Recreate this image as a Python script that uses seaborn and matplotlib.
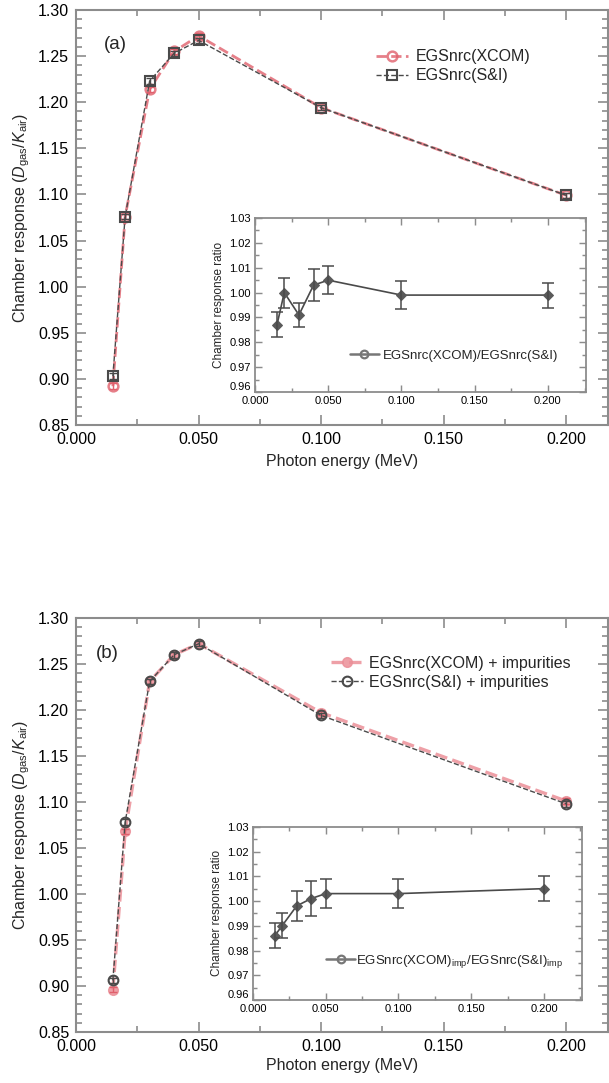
import matplotlib
matplotlib.use("Agg")
import matplotlib.pyplot as plt
from matplotlib.ticker import MultipleLocator, FormatStrFormatter
import seaborn as sns
import pandas as pd

# ---------------- data ----------------
energy = [0.015, 0.020, 0.030, 0.040, 0.050, 0.100, 0.200]

a_xcom = [0.892, 1.076, 1.214, 1.255, 1.272, 1.194, 1.099]
a_si = [0.903, 1.076, 1.223, 1.253, 1.267, 1.194, 1.099]
a_err = [0.003, 0.003, 0.003, 0.003, 0.003, 0.003, 0.003]
a_ratio = [0.987, 1.000, 0.991, 1.003, 1.005, 0.999, 0.999]
a_ratio_err = [0.005, 0.006, 0.005, 0.0065, 0.0055, 0.0055, 0.005]

b_xcom = [0.896, 1.068, 1.231, 1.260, 1.272, 1.197, 1.101]
b_si = [0.906, 1.078, 1.231, 1.260, 1.272, 1.194, 1.098]
b_err = [0.003, 0.003, 0.003, 0.003, 0.003, 0.003, 0.003]
b_ratio = [0.986, 0.990, 0.998, 1.001, 1.003, 1.003, 1.005]
b_ratio_err = [0.005, 0.005, 0.006, 0.007, 0.0058, 0.0058, 0.005]

main_xticks = [0.000, 0.050, 0.100, 0.150, 0.200]
main_yticks = [0.85, 0.90, 0.95, 1.00, 1.05, 1.10, 1.15, 1.20, 1.25, 1.30]
inset_xticks = [0.000, 0.050, 0.100, 0.150, 0.200]
inset_yticks = [0.96, 0.97, 0.98, 0.99, 1.00, 1.01, 1.02, 1.03]

# ---------------- style ----------------
sns.set_theme(style="ticks")
plt.rcParams["font.family"] = ["Liberation Sans", "DejaVu Sans"]
plt.rcParams["mathtext.fontset"] = "custom"
plt.rcParams["mathtext.rm"] = "Liberation Sans"
plt.rcParams["mathtext.it"] = "Liberation Sans:italic"
plt.rcParams["mathtext.bf"] = "Liberation Sans:bold"

SPINE = "#8c8c8c"
RED = "#e0606c"
PINK = "#eb8f98"
GREY = "#4a4a4a"

fig = plt.figure(figsize=(6.09, 10.83), dpi=100)
ax_a = fig.add_axes([0.125, 0.6076, 0.8736, 0.3832])
ax_b = fig.add_axes([0.125, 0.0471, 0.8736, 0.3823])
ins_a = fig.add_axes([0.4187, 0.638, 0.5435, 0.1607])
ins_b = fig.add_axes([0.4154, 0.0766, 0.540, 0.160])


def style_axes(ax, xlim, ylim, xticks, yticks, xminor, yminor, fs, xfmt, yfmt,
               maj_len, min_len, lw, xpad, ypad):
    ax.set_xlim(*xlim)
    ax.set_ylim(*ylim)
    ax.set_xticks(xticks)
    ax.set_yticks(yticks)
    ax.xaxis.set_minor_locator(MultipleLocator(xminor))
    ax.yaxis.set_minor_locator(MultipleLocator(yminor))
    ax.xaxis.set_major_formatter(FormatStrFormatter(xfmt))
    ax.yaxis.set_major_formatter(FormatStrFormatter(yfmt))
    for s in ax.spines.values():
        s.set_visible(True)
        s.set_color(SPINE)
        s.set_linewidth(lw)
    ax.tick_params(which="both", direction="in", top=True, right=True,
                   color=SPINE, width=lw * 0.8, labelsize=fs, labelcolor="black")
    ax.tick_params(which="major", length=maj_len)
    ax.tick_params(which="minor", length=min_len)
    ax.tick_params(axis="x", pad=xpad)
    ax.tick_params(axis="y", pad=ypad)
    ax.set_facecolor("white")
    ax.grid(False)


def raise_bottom_ylabel(ax):
    # lowest y tick label sits just above the x tick labels, as in the original
    labels = ax.get_yticklabels()
    labels[0].set_verticalalignment("bottom")


ylab = r"Chamber response ($\mathit{D}_{\mathrm{gas}}/\mathit{K}_{\mathrm{air}}$)"

# ---------------- panel (a) ----------------
df_a = pd.DataFrame({"energy": energy, "xcom": a_xcom, "si": a_si})
sns.lineplot(data=df_a, x="energy", y="xcom", ax=ax_a, color=RED, linestyle="--",
             linewidth=2.0, alpha=0.8, marker="o", markersize=7, markerfacecolor="none",
             markeredgecolor=RED, markeredgewidth=1.8, errorbar=None,
             label="EGSnrc(XCOM)", zorder=3)
ax_a.errorbar(energy, a_xcom, yerr=a_err, fmt="none", ecolor=RED, capsize=3,
              elinewidth=1, zorder=3)
sns.lineplot(data=df_a, x="energy", y="si", ax=ax_a, color=GREY, linestyle="--",
             linewidth=1.0, marker="s", markersize=7, markerfacecolor="none",
             markeredgecolor=GREY, markeredgewidth=1.5, errorbar=None,
             label="EGSnrc(S&I)", zorder=4)
ax_a.errorbar(energy, a_si, yerr=a_err, fmt="none", ecolor=GREY, capsize=3,
              elinewidth=1, zorder=4)
style_axes(ax_a, (0.0, 0.2171), (0.85, 1.30), main_xticks, main_yticks, 0.025, 0.01,
           11.5, "%.3f", "%.2f", 7, 4, 1.5, 5, 5)
ax_a.set_xlabel("Photon energy (MeV)", fontsize=11.5, labelpad=5)
ax_a.set_ylabel(ylab, fontsize=11.5, labelpad=4)
ax_a.text(0.052, 0.916, "(a)", transform=ax_a.transAxes, fontsize=13.5,
          va="center", ha="left")
ax_a.legend(loc="center right", bbox_to_anchor=(0.87, 0.864), frameon=False,
            fontsize=11.5, handlelength=2.0, handletextpad=0.5, labelspacing=0.25,
            borderpad=0)

# inset (a)
df_ra = pd.DataFrame({"energy": energy, "ratio": a_ratio})
sns.lineplot(data=df_ra, x="energy", y="ratio", ax=ins_a, color=GREY, linewidth=1.2,
             marker="D", markersize=5.5, markerfacecolor="#5a5a5a",
             markeredgecolor="#5a5a5a", errorbar=None,
             label="EGSnrc(XCOM)/EGSnrc(S&I)", zorder=3)
ins_a.errorbar(energy, a_ratio, yerr=a_ratio_err, fmt="none", ecolor=GREY,
               capsize=4, elinewidth=1.1, capthick=1.1, zorder=3)
style_axes(ins_a, (0.0, 0.226), (0.96, 1.03), inset_xticks, inset_yticks, 0.025, 0.005,
           8, "%.3f", "%.2f", 5, 3, 1.3, 2.5, 3)
raise_bottom_ylabel(ins_a)
ins_a.set_xlabel("")
ins_a.set_ylabel("Chamber response ratio", fontsize=8.5, labelpad=3)
leg = ins_a.legend(loc="center right", bbox_to_anchor=(0.935, 0.21), frameon=False,
                   fontsize=9.5, handlelength=2.2, handletextpad=0.3, borderpad=0)
for h in leg.legend_handles:
    h.set_marker("o")
    h.set_markerfacecolor("none")
    h.set_markeredgecolor("#777777")
    h.set_markeredgewidth(1.6)
    h.set_color("#777777")
    h.set_linewidth(1.8)

# ---------------- panel (b) ----------------
df_b = pd.DataFrame({"energy": energy, "xcom": b_xcom, "si": b_si})
sns.lineplot(data=df_b, x="energy", y="xcom", ax=ax_b, color=PINK, linestyle="--",
             linewidth=2.4, alpha=0.85, marker="o", markersize=7,
             markerfacecolor=PINK, markeredgecolor=PINK, markeredgewidth=1.0,
             errorbar=None, label="EGSnrc(XCOM) + impurities", zorder=3)
ax_b.errorbar(energy, b_xcom, yerr=b_err, fmt="none", ecolor=RED, capsize=3,
              elinewidth=1, zorder=3)
sns.lineplot(data=df_b, x="energy", y="si", ax=ax_b, color=GREY, linestyle="--",
             linewidth=1.0, marker="o", markersize=7, markerfacecolor="none",
             markeredgecolor=GREY, markeredgewidth=1.5, errorbar=None,
             label="EGSnrc(S&I) + impurities", zorder=4)
ax_b.errorbar(energy, b_si, yerr=b_err, fmt="none", ecolor=GREY, capsize=3,
              elinewidth=1, zorder=4)
style_axes(ax_b, (0.0, 0.2171), (0.85, 1.30), main_xticks, main_yticks, 0.025, 0.01,
           11.5, "%.3f", "%.2f", 7, 4, 1.5, 5, 5)
ax_b.set_xlabel("Photon energy (MeV)", fontsize=11.5, labelpad=3)
ax_b.set_ylabel(ylab, fontsize=11.5, labelpad=4)
ax_b.text(0.038, 0.915, "(b)", transform=ax_b.transAxes, fontsize=13.5,
          va="center", ha="left")
ax_b.legend(loc="center right", bbox_to_anchor=(0.945, 0.867), frameon=False,
            fontsize=11.5, handlelength=2.0, handletextpad=0.4, labelspacing=0.25,
            borderpad=0)

# inset (b)
df_rb = pd.DataFrame({"energy": energy, "ratio": b_ratio})
sns.lineplot(data=df_rb, x="energy", y="ratio", ax=ins_b, color=GREY, linewidth=1.2,
             marker="D", markersize=5.5, markerfacecolor="#5a5a5a",
             markeredgecolor="#5a5a5a", errorbar=None,
             label=r"EGSnrc(XCOM)$_{\mathrm{imp}}$/EGSnrc(S&I)$_{\mathrm{imp}}$", zorder=3)
ins_b.errorbar(energy, b_ratio, yerr=b_ratio_err, fmt="none", ecolor=GREY,
               capsize=4, elinewidth=1.1, capthick=1.1, zorder=3)
style_axes(ins_b, (0.0, 0.226), (0.96, 1.03), inset_xticks, inset_yticks, 0.025, 0.005,
           8, "%.3f", "%.2f", 5, 3, 1.3, 2.5, 3)
raise_bottom_ylabel(ins_b)
ins_b.set_xlabel("")
ins_b.set_ylabel("Chamber response ratio", fontsize=8.5, labelpad=3)
leg = ins_b.legend(loc="center right", bbox_to_anchor=(0.965, 0.225), frameon=False,
                   fontsize=9.5, handlelength=2.2, handletextpad=0.1, borderpad=0)
for h in leg.legend_handles:
    h.set_marker("o")
    h.set_markerfacecolor("none")
    h.set_markeredgecolor("#777777")
    h.set_markeredgewidth(1.6)
    h.set_color("#777777")
    h.set_linewidth(1.8)

fig.savefig("out.png", dpi=100)
